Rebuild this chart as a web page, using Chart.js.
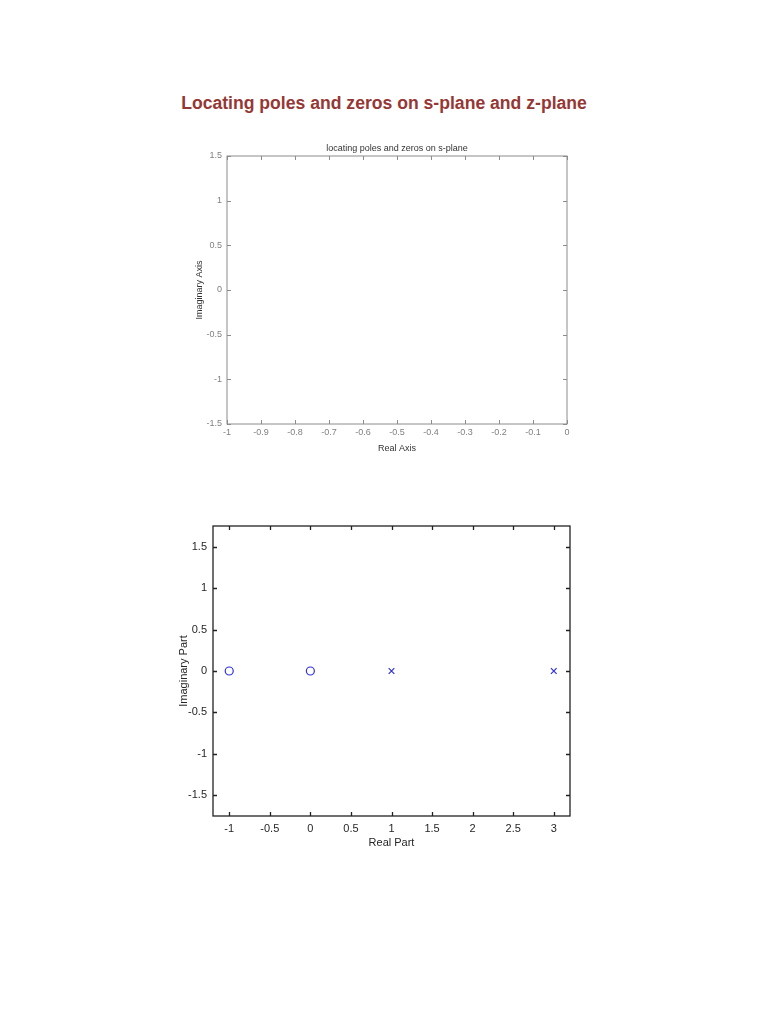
<!DOCTYPE html>
<html>
<head>
<meta charset="utf-8">
<title>Locating poles and zeros</title>
<script src="https://cdn.jsdelivr.net/npm/chart.js@4.4.1/dist/chart.umd.min.js"></script>
<style>
  body { margin: 0; background: #fff; width: 768px; height: 1024px; position: relative; font-family: "Liberation Sans", Arial, sans-serif; }
  #heading { position: absolute; left: 0; width: 768px; top: 93px; text-align: center; font-weight: bold; font-size: 17.6px; color: #953735; }
  #c1 { position: absolute; left: 150px; top: 130px; }
  #c2 { position: absolute; left: 130px; top: 500px; }
</style>
</head>
<body>
<div id="heading">Locating poles and zeros on s-plane and z-plane</div>
<canvas id="c1" width="450" height="340"></canvas>
<canvas id="c2" width="470" height="370"></canvas>
<script>
// s-plane (empty plot)
const sXTicks = [-1, -0.9, -0.8, -0.7, -0.6, -0.5, -0.4, -0.3, -0.2, -0.1, 0];
const sYTicks = [-1.5, -1, -0.5, 0, 0.5, 1, 1.5];

// z-plane
const zeroRe = [-1, 0];
const zeroIm = [0, 0];
const poleRe = [1, 3];
const poleIm = [0, 0];
const zXTicks = [-1, -0.5, 0, 0.5, 1, 1.5, 2, 2.5, 3];
const zYTicks = [-1.5, -1, -0.5, 0, 0.5, 1, 1.5];

// box around plot area + inward ticks (matlab look)
const boxTicks = {
  id: 'boxTicks',
  afterDraw(chart, args, opts) {
    const { ctx, chartArea: a, scales: { x, y } } = chart;
    const L = opts.len;
    ctx.save();
    ctx.strokeStyle = opts.color;
    ctx.lineWidth = opts.width;
    ctx.strokeRect(a.left, a.top, a.right - a.left, a.bottom - a.top);
    ctx.beginPath();
    x.ticks.forEach(t => {
      const px = Math.round(x.getPixelForValue(t.value)) + 0.5;
      ctx.moveTo(px, a.bottom); ctx.lineTo(px, a.bottom - L);
      ctx.moveTo(px, a.top); ctx.lineTo(px, a.top + L);
    });
    y.ticks.forEach(t => {
      const py = Math.round(y.getPixelForValue(t.value)) + 0.5;
      ctx.moveTo(a.left, py); ctx.lineTo(a.left + L, py);
      ctx.moveTo(a.right, py); ctx.lineTo(a.right - L, py);
    });
    ctx.stroke();
    ctx.restore();
  }
};

function fixTicks(list) {
  return function (scale) { scale.ticks = list.map(v => ({ value: v })); };
}

const font = "'Liberation Sans', Arial, sans-serif";

new Chart(document.getElementById('c1'), {
  type: 'scatter',
  data: { datasets: [{ data: [] }] },
  plugins: [boxTicks],
  options: {
    responsive: false,
    animation: false,
    layout: { padding: { left: 0, right: 33, top: 0, bottom: 0 } },
    plugins: {
      legend: { display: false },
      tooltip: { enabled: false },
      title: {
        display: true,
        fullSize: false,
        text: 'locating poles and zeros on s-plane',
        color: '#333',
        font: { family: font, size: 9, weight: 'normal' },
        padding: { top: 13, bottom: 2.2 }
      },
      boxTicks: { color: '#8c8c8c', width: 1, len: 4 }
    },
    scales: {
      x: {
        type: 'linear', min: -1, max: 0,
        afterBuildTicks: fixTicks(sXTicks),
        afterFit(s) { s.height = 46; },
        grid: { display: false, drawTicks: false },
        border: { display: false },
        ticks: { color: '#808080', font: { family: font, size: 9 }, padding: 3, maxRotation: 0, autoSkip: false, callback: v => String(v) },
        title: { display: true, text: 'Real Axis', color: '#333', font: { family: font, size: 9 }, padding: { top: 0, bottom: 15.6 } }
      },
      y: {
        type: 'linear', min: -1.5, max: 1.5,
        afterBuildTicks: fixTicks(sYTicks),
        afterFit(s) { s.width = 77; },
        grid: { display: false, drawTicks: false },
        border: { display: false },
        ticks: { color: '#808080', font: { family: font, size: 9 }, padding: 5, autoSkip: false, callback: v => String(v) },
        title: { display: true, text: 'Imaginary Axis', color: '#333', font: { family: font, size: 9 }, padding: { top: 44.6, bottom: 0 } }
      }
    }
  }
});

new Chart(document.getElementById('c2'), {
  type: 'scatter',
  data: {
    datasets: [
      {
        label: 'zeros',
        data: zeroRe.map((r, i) => ({ x: r, y: zeroIm[i] })),
        pointStyle: 'circle', pointRadius: 4, borderColor: '#3030e0', backgroundColor: 'rgba(0,0,0,0)', borderWidth: 1.2
      },
      {
        label: 'poles',
        data: poleRe.map((r, i) => ({ x: r, y: poleIm[i] })),
        pointStyle: 'crossRot', pointRadius: 4, borderColor: '#3030e0', backgroundColor: '#3030e0', borderWidth: 1.2
      }
    ]
  },
  plugins: [boxTicks],
  options: {
    responsive: false,
    animation: false,
    layout: { padding: { left: 0, right: 30, top: 26, bottom: 0 } },
    plugins: {
      legend: { display: false },
      tooltip: { enabled: false },
      boxTicks: { color: '#222', width: 1.3, len: 4 }
    },
    scales: {
      x: {
        type: 'linear', min: -1.2, max: 3.2,
        afterBuildTicks: fixTicks(zXTicks),
        afterFit(s) { s.height = 54; },
        grid: { display: false, drawTicks: false },
        border: { display: false },
        ticks: { color: '#262626', font: { family: font, size: 11 }, padding: 6, maxRotation: 0, autoSkip: false, callback: v => String(v) },
        title: { display: true, text: 'Real Part', color: '#262626', font: { family: font, size: 11 }, padding: { top: 0, bottom: 20.4 } }
      },
      y: {
        type: 'linear', min: -1.75, max: 1.75,
        afterBuildTicks: fixTicks(zYTicks),
        afterFit(s) { s.width = 83; },
        grid: { display: false, drawTicks: false },
        border: { display: false },
        ticks: { color: '#262626', font: { family: font, size: 11 }, padding: 6, autoSkip: false, callback: v => String(v) },
        title: { display: true, text: 'Imaginary Part', color: '#262626', font: { family: font, size: 11 }, padding: { top: 47.4, bottom: 0 } }
      }
    }
  }
});
</script>
</body>
</html>
